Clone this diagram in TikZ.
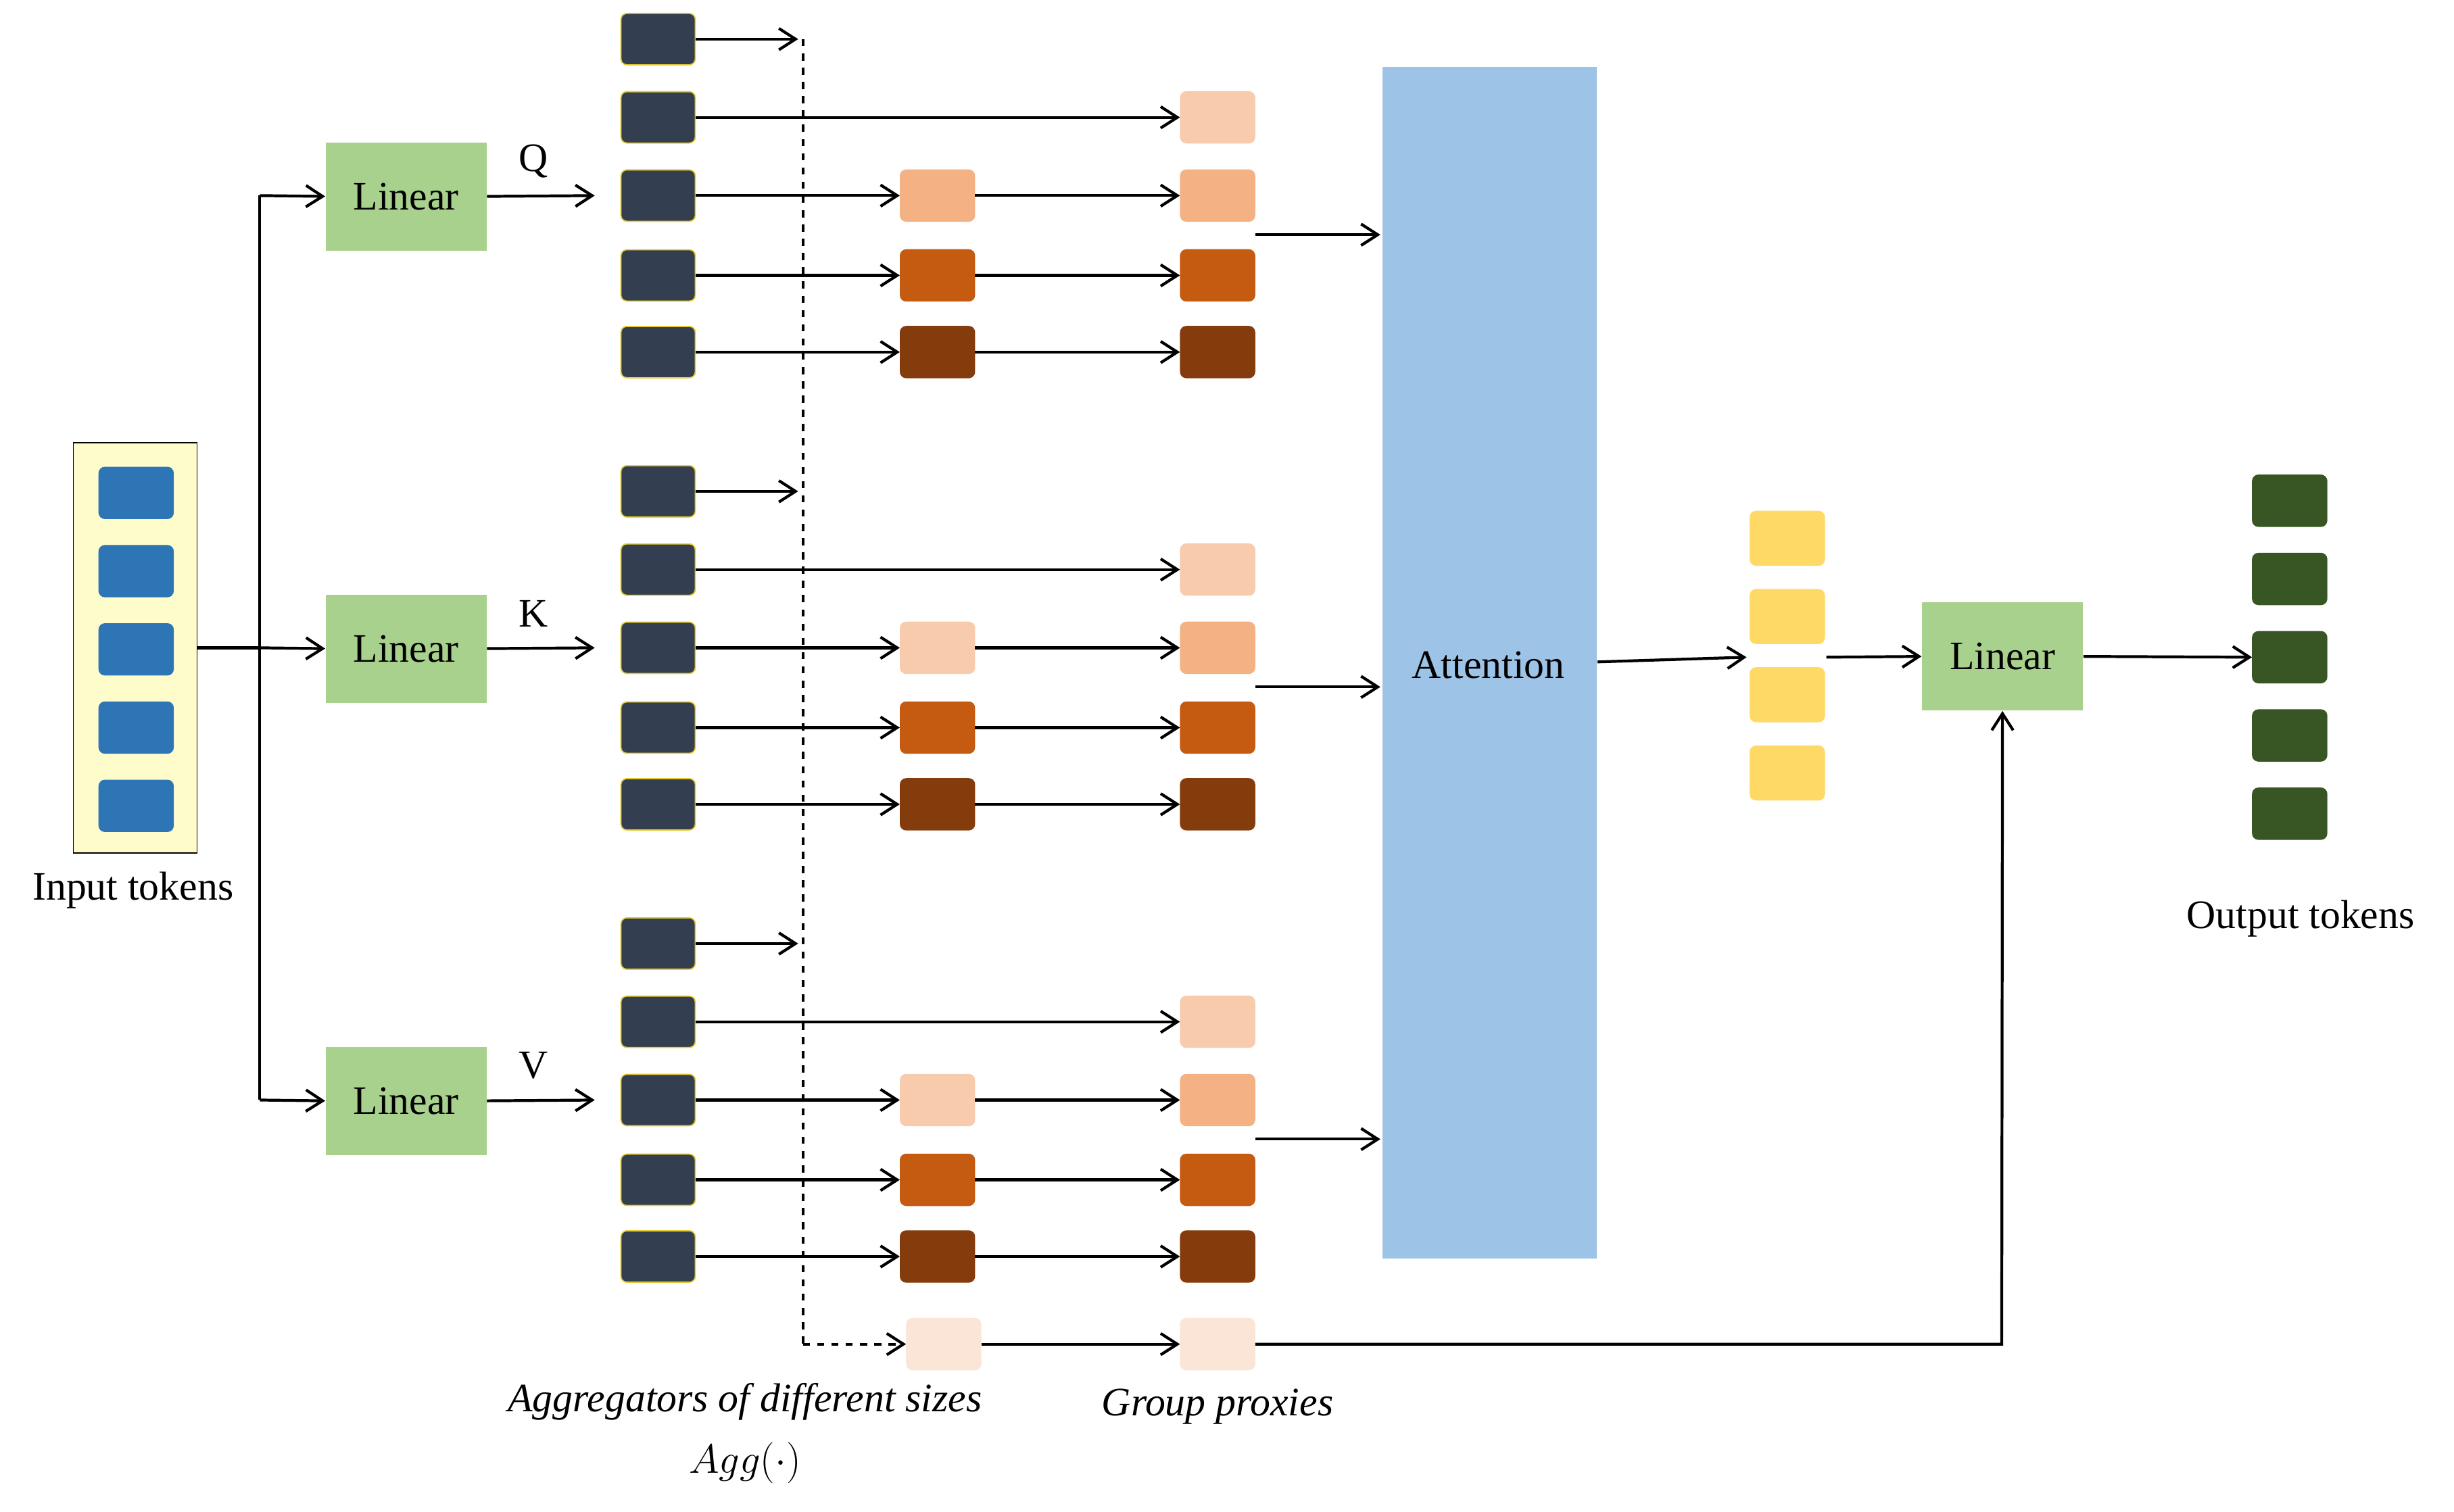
\documentclass[tikz,border=0pt]{standalone}
\usepackage{fontspec}
\setmainfont{Liberation Serif}
\usetikzlibrary{arrows.meta}
\definecolor{dk}{HTML}{333F50}
\definecolor{c1}{HTML}{F8CBAD}
\definecolor{c2}{HTML}{F4B183}
\definecolor{c3}{HTML}{C55A11}
\definecolor{c4}{HTML}{843C0C}
\definecolor{c0}{HTML}{FBE5D6}
\definecolor{grn}{HTML}{A9D18E}
\definecolor{att}{HTML}{9DC3E6}
\definecolor{yel}{HTML}{FFD966}
\definecolor{blu}{HTML}{2E75B6}
\definecolor{ogr}{HTML}{375623}
\begin{document}
\begin{tikzpicture}[x=0.02315cm,y=-0.02315cm,
  tok/.style={draw=#1,fill=#1,rounded corners=2.5pt,minimum width=1.1cm,minimum height=0.76cm,inner sep=0},
  dtok/.style={draw=yellow!60!brown,line width=0.5pt,fill=dk,rounded corners=2.5pt,minimum width=1.1cm,minimum height=0.76cm,inner sep=0},
  lin/.style={fill=grn,minimum width=2.38cm,minimum height=1.6cm,inner sep=0,font=\fontsize{17}{20}\selectfont},
  ar/.style={-{Straight Barb[length=7pt,width=9pt]},line width=1.2pt},
  lbl/.style={font=\fontsize{17}{20}\selectfont}]
\useasboundingbox (0,0) rectangle (1568,966);
\fill[white] (0,0) rectangle (1568,966);
% input
\node[draw,fill=yellow!20,minimum width=1.83cm,minimum height=6.07cm,inner sep=0] (inbox) at (86.5,414) {};
\foreach \i/\y in {1/315,2/365,3/415,4/465,5/515}
  \node[tok=blu] (in\i) at (87,\y) {};
\node[lbl] (inl) at (85,569) {Input tokens};
% linears
\node[lin] (lq) at (259.5,125.5) {Linear};
\node[lin] (lk) at (259.5,414.5) {Linear};
\node[lin] (lv) at (259.5,703.5) {Linear};
\coordinate (sp) at (166,414);
\draw[line width=1.2pt] (inbox.east |- sp) -- (sp);
\draw[line width=1.2pt] (166,125) -- (166,703);
\draw[ar] (166,125) -- (lq.west);
\draw[ar] (sp) -- (lk.west);
\draw[ar] (166,703) -- (lv.west);
\foreach \n/\L/\yy in {q/Q/125,k/K/414,v/V/703}{
  \coordinate (e\n) at (380,\yy);
  \draw[ar] (l\n.east) -- (e\n);
  \node[lbl] at (341,\yy-22) {\L};
}
% groups
\foreach \g/\b/\mc in {q/0/c2,k/289/c1,v/578/c1}{
  \foreach \r/\dy in {1/25,2/75,3/125,4/176,5/225}
    \node[dtok] (\g d\r) at (420.5,\b+\dy) {};
  \coordinate (\g s) at (510,\b+25);
  \draw[ar] (\g d1.east) -- (\g s);
  \node[tok=\mc] (\g m3) at (599,\b+125) {};
  \node[tok=c3] (\g m4) at (599,\b+176) {};
  \node[tok=c4] (\g m5) at (599,\b+225) {};
  \node[tok=c1] (\g r2) at (778,\b+75) {};
  \node[tok=c2] (\g r3) at (778,\b+125) {};
  \node[tok=c3] (\g r4) at (778,\b+176) {};
  \node[tok=c4] (\g r5) at (778,\b+225) {};
  \draw[ar] (\g d2.east) -- (\g r2.west);
  \foreach \r in {3,4,5}{
    \draw[ar] (\g d\r.east) -- (\g m\r.west);
    \draw[ar] (\g m\r.east) -- (\g r\r.west);
  }
  \coordinate (\g a) at (882,\b+150);
  \draw[ar] (802,\b+150) -- (\g a);
}
% dashed
\node[tok=c0] (pm) at (603,859) {};
\node[tok=c0] (pr) at (778,859) {};
\draw[line width=1.2pt,dashed] (513,25) -- (513,859);
\draw[ar,dashed] (513,859) -- (pm.west);
\draw[ar] (pm.east) -- (pr.west);
% attention
\node[fill=att,minimum width=3.17cm,minimum height=17.62cm,inner sep=0] (att) at (952,423.5) {};
\node[lbl] at (951,425) {Attention};
\foreach \i/\y in {1/344,2/394,3/444,4/494}
  \node[tok=yel,minimum height=0.8cm] (y\i) at (1142,\y) {};
\draw[ar] (att.east |- 0,423) -- (1116,420);
\node[lin] (lo) at (1279.5,419.5) {Linear};
\draw[ar] (1167,420) -- (lo.west);
\foreach \i/\y in {1/320,2/370,3/420,4/470,5/520}
  \node[tok=ogr] (o\i) at (1463,\y) {};
\draw[ar] (lo.east) -- (o3.west);
\node[lbl] at (1470,587) {Output tokens};
\draw[ar] (pr.east) -- (1279,859) -- (lo.south);
% labels
\node[lbl,font=\fontsize{17}{20}\selectfont\itshape] at (476,896) {Aggregators of different sizes};
\node[lbl] at (476,935) {$Agg(\cdot)$};
\node[lbl,font=\fontsize{17}{20}\selectfont\itshape] at (778,899) {Group proxies};
\end{tikzpicture}
\end{document}
